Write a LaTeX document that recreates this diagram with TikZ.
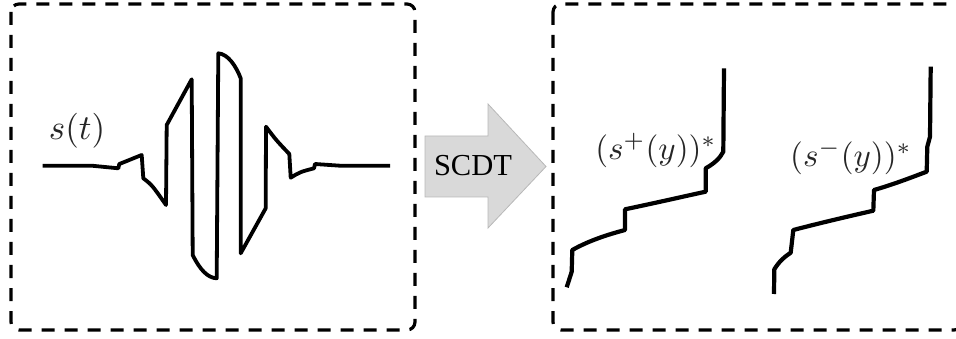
\documentclass[tikz,border=0pt]{standalone}
\usepackage{graphicx}
\usepackage{fontspec}
\newfontfamily\timesfont{Liberation Serif}
\begin{document}
\begin{tikzpicture}[x=1pt,y=-1pt,
  panel/.style={draw=black,line width=3.2pt,dash pattern=on 13pt off 10pt,rounded corners=8pt},
  wave/.style={draw=black,line width=3.8pt,line join=round,line cap=butt},
  mathlabel/.style={inner sep=0pt,text=black!85},
  arrowbody/.style={fill=black!15,draw=black!28,line width=0.8pt}]
\useasboundingbox (0,0) rectangle (956,339);
\clip (0,0) rectangle (956,339);
% panels
\draw[panel] (11,4) rectangle (415,330);
\draw[panel] (553,4) rectangle (962,330);
% signal
\draw[wave] (42.7,165.7) -- (91.7,165.7) -- (118.3,168.3) -- (119.3,164)
  -- (141.7,155) -- (143.3,178.3) .. controls (152,185) .. (166,205)
  -- (166.7,125) -- (191.7,79.3) -- (192.7,255)
  .. controls (200,270) and (208,278) .. (216.7,278.3)
  -- (218.3,53.3) .. controls (228,54) and (236,66) .. (240.7,78.3)
  -- (240.7,253.3) -- (265.7,208.3) -- (266,126.7)
  .. controls (276,140) .. (289.3,154) -- (290.7,177.7)
  .. controls (300,172) .. (314,168.3) -- (315,164) -- (340,165.7) -- (390,165.7);
\node[mathlabel] (st) at (77,131) {\scalebox{3.5}{$s(t)$}};
% SCDT arrow
\draw[arrowbody] (425,136) -- (488,136) -- (488,104) -- (546,166.5)
  -- (488,228) -- (488,197) -- (425,197) -- cycle;
\node[inner sep=0pt,font=\timesfont\fontsize{30.5}{34}\selectfont] (scdt) at (473,166) {SCDT};
% right curves
\draw[wave,line width=4.2pt] (566.7,287.3) -- (571.7,271.7) -- (572.3,250)
  .. controls (590,240) and (610,234) .. (625,230)
  -- (625,209.3) .. controls (660,202) and (690,195) .. (705.7,191.7)
  -- (705.7,168.3) .. controls (715,163) and (720,158) .. (723.3,151.7)
  -- (724,68.3);
\draw[wave,line width=4.2pt] (774,294) -- (774.3,269.3) .. controls (780,260) and (786,256) .. (790.7,252.7)
  -- (793.3,230) .. controls (820,223) and (850,216) .. (873.3,210.7)
  -- (874,190) .. controls (895,184) and (915,176) .. (926.7,171.7)
  -- (927.3,146.7) -- (930,136.7) -- (930.7,66.7);
\node[mathlabel] (splus) at (656,150) {\scalebox{3.3}{$(s^+(y))^*$}};
\node[mathlabel] (sminus) at (851,157) {\scalebox{3.3}{$(s^-(y))^*$}};
\end{tikzpicture}
\end{document}
